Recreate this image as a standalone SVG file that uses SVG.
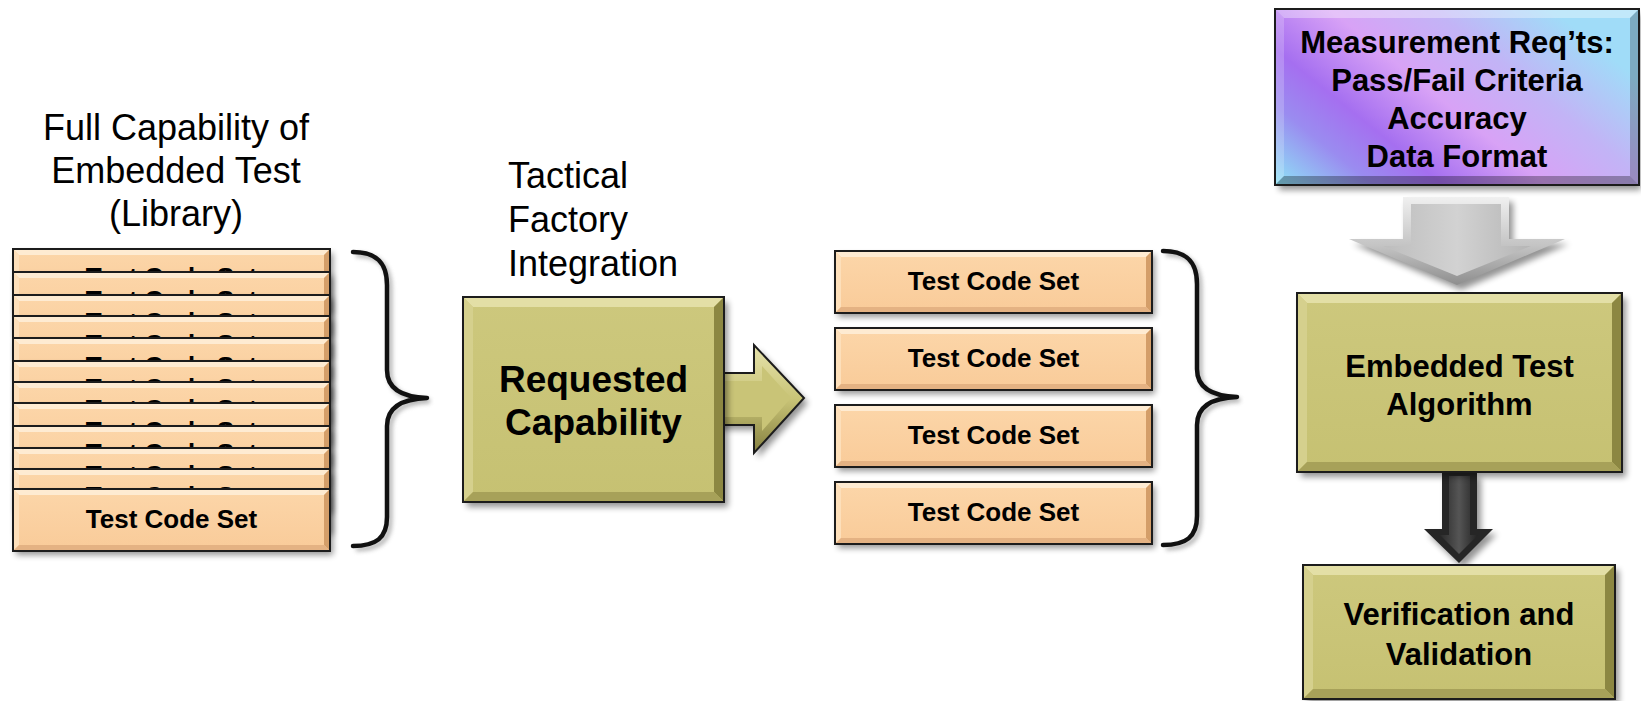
<svg xmlns="http://www.w3.org/2000/svg" width="1641" height="701" viewBox="0 0 1641 701">
<defs>
<style>
.sh{fill:#000;opacity:.42;filter:url(#blur)}
.pkT{fill:#FEEBD2}.pkL{fill:#FDDFBA}.pkR{fill:#D49E69}.pkB{fill:#E4B283}
.ol{fill:url(#gOlive)}.olT{fill:#E3DFA6}.olL{fill:#D5D08D}.olR{fill:#8C8742}.olB{fill:#A7A159}
.bd{fill:none;stroke:#1c1c1c;stroke-width:2}
.lbl{font-family:"Liberation Sans",Arial,sans-serif;font-size:36px;fill:#000}
.bt{font-family:"Liberation Sans",Arial,sans-serif;font-weight:bold;fill:#000;text-anchor:middle}
.t26{font-size:26px}.t31{font-size:31px}.t37{font-size:37px}
.brace{fill:none;stroke:#111;stroke-width:4.5;stroke-linecap:round;stroke-linejoin:round}
.braceSh{fill:none;stroke:#888;stroke-width:5;opacity:.6;filter:url(#blur2)}
.wT{fill:#fff;opacity:.35}.wL{fill:#fff;opacity:.2}.kR{fill:#000;opacity:.22}.kB{fill:#000;opacity:.3}
</style>
<filter id="blur" x="-10%" y="-20%" width="130%" height="150%"><feGaussianBlur stdDeviation="3"/></filter>
<filter id="blur2" x="-20%" y="-10%" width="150%" height="130%"><feGaussianBlur stdDeviation="2"/></filter>
<linearGradient id="gPeach" x1="0" y1="0" x2="0" y2="1"><stop offset="0" stop-color="#FCD6A9"/><stop offset="1" stop-color="#F9CB99"/></linearGradient>
<linearGradient id="gOlive" x1="0" y1="0" x2="0" y2="1"><stop offset="0" stop-color="#CDC87D"/><stop offset="1" stop-color="#C6C172"/></linearGradient>
<linearGradient id="gMeas" x1="0" y1="1" x2="1" y2="0.4"><stop offset="0" stop-color="#8EE4F6"/><stop offset="0.2" stop-color="#9A8CF0"/><stop offset="0.34" stop-color="#A56FF0"/><stop offset="0.55" stop-color="#D8A2F6"/><stop offset="0.76" stop-color="#C2B4F6"/><stop offset="1" stop-color="#A0DCF8"/></linearGradient>
<linearGradient id="gArrOl" x1="0" y1="0" x2="0" y2="1"><stop offset="0" stop-color="#E6E2AC"/><stop offset="0.5" stop-color="#C9C477"/><stop offset="1" stop-color="#858040"/></linearGradient>
<linearGradient id="gArrGr" x1="0" y1="0" x2="0" y2="1"><stop offset="0" stop-color="#F0F0F0"/><stop offset="0.55" stop-color="#C4C4C4"/><stop offset="1" stop-color="#8E8E8E"/></linearGradient>
<linearGradient id="gArrGrIn" x1="0" y1="0" x2="1" y2="0"><stop offset="0" stop-color="#BDBDBD"/><stop offset="0.5" stop-color="#D2D2D2"/><stop offset="1" stop-color="#B5B5B5"/></linearGradient>
<linearGradient id="gArrDk" x1="0" y1="0" x2="1" y2="0"><stop offset="0" stop-color="#2A2A2A"/><stop offset="0.5" stop-color="#555"/><stop offset="1" stop-color="#222"/></linearGradient>
<g id="tcsBox">
<rect class="sh" x="3" y="4" width="317" height="62"/>
<rect width="317" height="62" fill="url(#gPeach)"/>
<polygon class="pkT" points="0,0 317,0 311,6 6,6"/>
<polygon class="pkL" points="0,0 6,6 6,56 0,62"/>
<polygon class="pkR" points="317,0 317,62 311,56 311,6"/>
<polygon class="pkB" points="0,62 6,56 311,56 317,62"/>
<rect class="bd" width="317" height="62"/>
</g>
</defs>
<rect width="1641" height="701" fill="#fff"/>

<g id="label-library">
<text class="lbl" text-anchor="middle" x="176" y="140">Full Capability of</text>
<text class="lbl" text-anchor="middle" x="176" y="183">Embedded Test</text>
<text class="lbl" text-anchor="middle" x="176" y="226">(Library)</text>
</g>
<g id="label-tactical">
<text class="lbl" x="508" y="188">Tactical</text>
<text class="lbl" x="508" y="232">Factory</text>
<text class="lbl" x="508" y="276">Integration</text>
</g>

<g id="library-stack">
<g id="lib-1"><use href="#tcsBox" x="13" y="249"/><text class="bt t26" x="171.5" y="286">Test Code Set</text></g>
<g id="lib-2"><use href="#tcsBox" x="13" y="272"/><text class="bt t26" x="171.5" y="309">Test Code Set</text></g>
<g id="lib-3"><use href="#tcsBox" x="13" y="295"/><text class="bt t26" x="171.5" y="331">Test Code Set</text></g>
<g id="lib-4"><use href="#tcsBox" x="13" y="316"/><text class="bt t26" x="171.5" y="353">Test Code Set</text></g>
<g id="lib-5"><use href="#tcsBox" x="13" y="338"/><text class="bt t26" x="171.5" y="375">Test Code Set</text></g>
<g id="lib-6"><use href="#tcsBox" x="13" y="361"/><text class="bt t26" x="171.5" y="397">Test Code Set</text></g>
<g id="lib-7"><use href="#tcsBox" x="13" y="382"/><text class="bt t26" x="171.5" y="418">Test Code Set</text></g>
<g id="lib-8"><use href="#tcsBox" x="13" y="403"/><text class="bt t26" x="171.5" y="440">Test Code Set</text></g>
<g id="lib-9"><use href="#tcsBox" x="13" y="426"/><text class="bt t26" x="171.5" y="462">Test Code Set</text></g>
<g id="lib-10"><use href="#tcsBox" x="13" y="448"/><text class="bt t26" x="171.5" y="484">Test Code Set</text></g>
<g id="lib-11"><use href="#tcsBox" x="13" y="469"/><text class="bt t26" x="171.5" y="505">Test Code Set</text></g>
<g id="lib-12"><use href="#tcsBox" x="13" y="489"/><text class="bt t26" x="171.5" y="528">Test Code Set</text></g>
</g>

<g id="brace-library">
<path class="braceSh" transform="translate(3,3)" d="M353 252 C376 252 387 262 387 285 L387 370 C387 388 400 397 427 398 C400 399 387 408 387 426 L387 517 C387 538 376 546 353 546"/>
<path class="brace" d="M353 252 C376 252 387 262 387 285 L387 370 C387 388 400 397 427 398 C400 399 387 408 387 426 L387 517 C387 538 376 546 353 546"/>
</g>

<g id="connectors">
<g id="arrow-requested">
<polygon class="sh" transform="translate(4,5)" points="716,373 754,373 754,345 804,398 754,453 754,425 716,425"/>
<polygon fill="url(#gArrOl)" points="716,373 754,373 754,345 804,398 754,453 754,425 716,425"/>
<polygon fill="#C9C477" points="716,381 762,381 762,366 791,398 762,431 762,417 716,417"/>
<polygon fill="none" stroke="#1c1c1c" stroke-width="2" stroke-linejoin="miter" points="716,373 754,373 754,345 804,398 754,453 754,425 716,425"/>
</g>
<g id="arrow-meas">
<polygon class="sh" transform="translate(4,5)" points="1403,197 1509,197 1509,239 1565,239 1457,285 1349,239 1403,239"/>
<polygon fill="url(#gArrGr)" points="1403,197 1509,197 1509,239 1565,239 1457,285 1349,239 1403,239"/>
<polygon fill="url(#gArrGrIn)" points="1411,204 1501,204 1501,246 1531,246 1457,276 1383,246 1411,246"/>
</g>
<g id="arrow-eta">
<polygon class="sh" transform="translate(4,5)" points="1442,473 1477,473 1477,529 1493,529 1459,563 1424,529 1442,529"/>
<polygon fill="#262626" points="1442,473 1477,473 1477,529 1493,529 1459,563 1424,529 1442,529"/>
<polygon fill="url(#gArrDk)" points="1449,476 1470,476 1470,535 1478,535 1459,554 1440,535 1449,535"/>
</g>
</g>

<g id="requested-capability">
<rect class="sh" x="467" y="302" width="261" height="205"/>
<rect class="ol" x="463" y="297" width="261" height="205"/>
<polygon class="olT" points="463,297 724,297 714,307 473,307"/>
<polygon class="olL" points="463,297 473,307 473,492 463,502"/>
<polygon class="olR" points="724,297 724,502 714,492 714,307"/>
<polygon class="olB" points="463,502 473,492 714,492 724,502"/>
<rect class="bd" x="463" y="297" width="261" height="205"/>
<text class="bt t37" x="593.5" y="392">Requested</text>
<text class="bt t37" x="593.5" y="435">Capability</text>
</g>

<g id="selected-sets">
<g id="sel-1"><use href="#tcsBox" x="835" y="251"/><text class="bt t26" x="993.5" y="290">Test Code Set</text></g>
<g id="sel-2"><use href="#tcsBox" x="835" y="328"/><text class="bt t26" x="993.5" y="367">Test Code Set</text></g>
<g id="sel-3"><use href="#tcsBox" x="835" y="405"/><text class="bt t26" x="993.5" y="444">Test Code Set</text></g>
<g id="sel-4"><use href="#tcsBox" x="835" y="482"/><text class="bt t26" x="993.5" y="521">Test Code Set</text></g>
</g>

<g id="brace-selected">
<path class="braceSh" transform="translate(3,3)" d="M1163 251 C1186 251 1197 261 1197 284 L1197 369 C1197 387 1210 396 1237 397 C1210 398 1197 407 1197 425 L1197 516 C1197 537 1186 545 1163 545"/>
<path class="brace" d="M1163 251 C1186 251 1197 261 1197 284 L1197 369 C1197 387 1210 396 1237 397 C1210 398 1197 407 1197 425 L1197 516 C1197 537 1186 545 1163 545"/>
</g>

<g id="measurement-reqs">
<rect class="sh" x="1279" y="14" width="362" height="176"/>
<rect x="1275" y="9" width="364" height="176" fill="url(#gMeas)"/>
<polygon class="wT" points="1275,9 1639,9 1630,18 1284,18"/>
<polygon class="wL" points="1275,9 1284,18 1284,176 1275,185"/>
<polygon class="kR" points="1639,9 1639,185 1630,176 1630,18"/>
<polygon class="kB" points="1275,185 1284,176 1630,176 1639,185"/>
<rect class="bd" x="1275" y="9" width="364" height="176"/>
<text class="bt t31" x="1457" y="53">Measurement Req’ts:</text>
<text class="bt t31" x="1457" y="91">Pass/Fail Criteria</text>
<text class="bt t31" x="1457" y="129">Accuracy</text>
<text class="bt t31" x="1457" y="167">Data Format</text>
</g>

<g id="embedded-test-algorithm">
<rect class="sh" x="1301" y="298" width="325" height="179"/>
<rect class="ol" x="1297" y="293" width="325" height="179"/>
<polygon class="olT" points="1297,293 1622,293 1612,303 1307,303"/>
<polygon class="olL" points="1297,293 1307,303 1307,462 1297,472"/>
<polygon class="olR" points="1622,293 1622,472 1612,462 1612,303"/>
<polygon class="olB" points="1297,472 1307,462 1612,462 1622,472"/>
<rect class="bd" x="1297" y="293" width="325" height="179"/>
<text class="bt t31" x="1459.5" y="377">Embedded Test</text>
<text class="bt t31" x="1459.5" y="415">Algorithm</text>
</g>

<g id="verification-validation">
<rect class="sh" x="1307" y="570" width="312" height="134"/>
<rect class="ol" x="1303" y="565" width="312" height="134"/>
<polygon class="olT" points="1303,565 1615,565 1605,575 1313,575"/>
<polygon class="olL" points="1303,565 1313,575 1313,689 1303,699"/>
<polygon class="olR" points="1615,565 1615,699 1605,689 1605,575"/>
<polygon class="olB" points="1303,699 1313,689 1605,689 1615,699"/>
<rect class="bd" x="1303" y="565" width="312" height="134"/>
<text class="bt t31" x="1459" y="625">Verification and</text>
<text class="bt t31" x="1459" y="665">Validation</text>
</g>
</svg>
